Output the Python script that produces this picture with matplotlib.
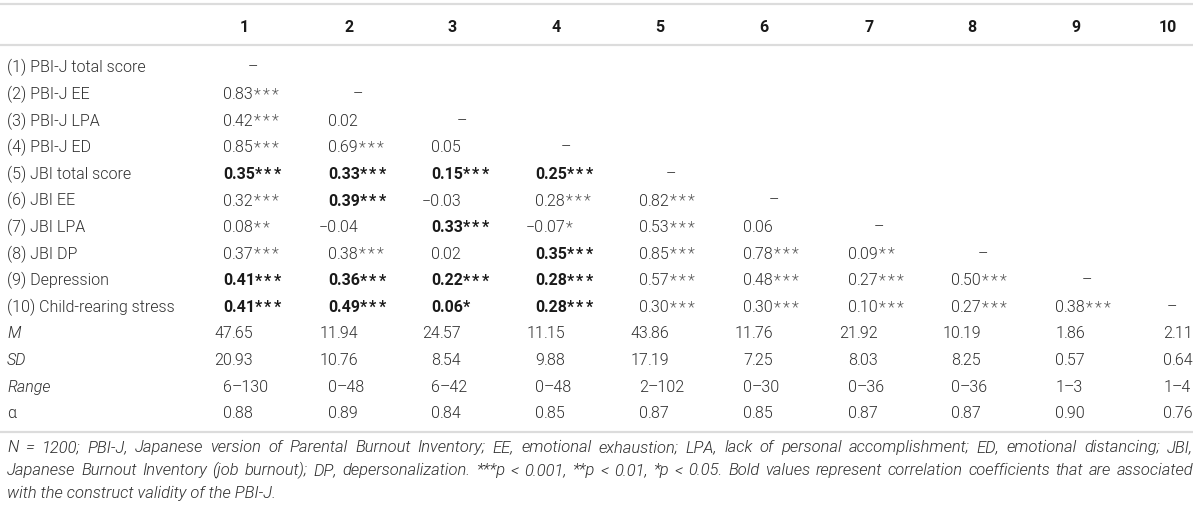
import matplotlib
matplotlib.use("Agg")
import matplotlib.pyplot as plt
from matplotlib import font_manager as fm

# ---------------- data ----------------
col_labels = ["1", "2", "3", "4", "5", "6", "7", "8", "9", "10"]
row_labels = ["(1) PBI-J total score", "(2) PBI-J EE", "(3) PBI-J LPA", "(4) PBI-J ED",
              "(5) JBI total score", "(6) JBI EE", "(7) JBI LPA", "(8) JBI DP",
              "(9) Depression", "(10) Child-rearing stress"]
corr = [
    [],
    [0.83],
    [0.42, 0.02],
    [0.85, 0.69, 0.05],
    [0.35, 0.33, 0.15, 0.25],
    [0.32, 0.39, -0.03, 0.28, 0.82],
    [0.08, -0.04, 0.33, -0.07, 0.53, 0.06],
    [0.37, 0.38, 0.02, 0.35, 0.85, 0.78, 0.09],
    [0.41, 0.36, 0.22, 0.28, 0.57, 0.48, 0.27, 0.50],
    [0.41, 0.49, 0.06, 0.28, 0.30, 0.30, 0.10, 0.27, 0.38],
]
stars = [
    [],
    ["***"],
    ["***", ""],
    ["***", "***", ""],
    ["***", "***", "***", "***"],
    ["***", "***", "", "***", "***"],
    ["**", "", "***", "*", "***", ""],
    ["***", "***", "", "***", "***", "***", "**"],
    ["***", "***", "***", "***", "***", "***", "***", "***"],
    ["***", "***", "*", "***", "***", "***", "***", "***", "***"],
]
bold = [
    [],
    [0],
    [0, 0],
    [0, 0, 0],
    [1, 1, 1, 1],
    [0, 1, 0, 0, 0],
    [0, 0, 1, 0, 0, 0],
    [0, 0, 0, 1, 0, 0, 0],
    [1, 1, 1, 1, 0, 0, 0, 0],
    [1, 1, 1, 1, 0, 0, 0, 0, 0],
]
stat_labels = ["M", "SD", "Range", "α"]
stat_italic = [True, True, True, False]
M_vals = [47.65, 11.94, 24.57, 11.15, 43.86, 11.76, 21.92, 10.19, 1.86, 2.11]
SD_vals = [20.93, 10.76, 8.54, 9.88, 17.19, 7.25, 8.03, 8.25, 0.57, 0.64]
range_vals = ["6–130", "0–48", "6–42", "0–48", "2–102", "0–30", "0–36", "0–36", "1–3", "1–4"]
alpha_vals = [0.88, 0.89, 0.84, 0.85, 0.87, 0.85, 0.87, 0.87, 0.90, 0.76]
footnote_lines = [
    "N = 1200; PBI-J, Japanese version of Parental Burnout Inventory; EE, emotional exhaustion; "
    "LPA, lack of personal accomplishment; ED, emotional distancing; JBI,",
    "Japanese Burnout Inventory (job burnout); DP, depersonalization. ***p < 0.001, **p < 0.01, "
    "*p < 0.05. Bold values represent correlation coefficients that are associated",
    "with the construct validity of the PBI-J.",
]

# ---------------- layout / style ----------------
W, H = 1200, 506
header_x = [244, 349, 452, 556, 660, 764, 869, 972, 1076, 1168]
anchor_x = [232, 337, 440, 544, 648, 752, 857, 960, 1064, 1172]
dash_off = [21, 21, 22, 22, 23, 22, 22, 23, 23, 0]
label_x = 7
header_y = 26
row_y0, row_dy = 67, 26.6
rule_y = [5, 45.7, 432.7]
rule_x1 = 1193
foot_y = [447, 470, 493]
base_shift = 5.5  # center -> baseline

C_TEXT = "#2f2f2f"
C_STAR = "#555555"
C_BOLD = "#1a1a1a"
C_RULE = "#dcdcdc"


def weight_num(w):
    if isinstance(w, (int, float)):
        return int(w)
    return fm.weight_dict.get(w, 400)


def has_font(name, weight, style="normal"):
    for f in fm.fontManager.ttflist:
        if f.name == name and f.style == style and weight_num(f.weight) == weight:
            return True
    return False


FAM, LIGHT = "Liberation Sans", 400
for cand in ["Roboto", "Lato", "Inter", "Open Sans"]:
    if has_font(cand, 300):
        FAM, LIGHT = cand, 300
        break
LIGHT_IT = LIGHT if has_font(FAM, LIGHT, "italic") else 400

fig = plt.figure(figsize=(W / 100, H / 100), dpi=100)
ax = fig.add_axes([0, 0, 1, 1])
ax.set_xlim(0, W)
ax.set_ylim(H, 0)
ax.axis("off")
renderer = fig.canvas.get_renderer()

# fit font sizes to measured widths
probe = ax.text(0, 0, row_labels[0], fontsize=10, family=FAM, weight=LIGHT)
FS = 10 * 138 / probe.get_window_extent(renderer).width
probe.remove()
probe = ax.text(0, 0, footnote_lines[2], fontsize=10, family=FAM, weight=LIGHT_IT, style="italic")
FFS = 10 * 270 / probe.get_window_extent(renderer).width
probe.remove()
FS_PX = FS * 100 / 72
STAR_STEP = 0.58 * FS_PX

# rules
for y in rule_y:
    ax.hlines(y, 0, rule_x1, color=C_RULE, lw=1.6)

# header
for x, lab in zip(header_x, col_labels):
    ax.text(x, header_y + base_shift, lab, ha="center", va="baseline", fontsize=FS,
            family=FAM, weight="bold", color=C_BOLD)


def cell(xa, y, s, is_bold=False, star=""):
    idx = [i for i in (s.find("."), s.find("–")) if i >= 0]
    idx = min(idx) if idx else len(s)
    left, right = s[:idx], s[idx:]
    kw = dict(fontsize=FS, family=FAM, weight="bold" if is_bold else LIGHT,
              color=C_BOLD if is_bold else C_TEXT)
    ax.text(xa, y, left, ha="right", va="baseline", **kw)
    t = ax.text(xa, y, right, ha="left", va="baseline", **kw)
    skw = dict(kw)
    if not is_bold:
        skw["color"] = C_STAR
    for k in range(len(star)):
        ax.annotate("*", xy=(1, 0), xycoords=t, xytext=(k * STAR_STEP, 0),
                    textcoords="offset pixels", ha="left", va="bottom", **skw)


def fmt(v):
    return f"{v:.2f}".replace("-", "−")


# correlation rows
for i, lab in enumerate(row_labels):
    y = row_y0 + i * row_dy + base_shift
    ax.text(label_x, y, lab, ha="left", va="baseline", fontsize=FS, family=FAM,
            weight=LIGHT, color=C_TEXT)
    for j, v in enumerate(corr[i]):
        cell(anchor_x[j], y, fmt(v), bool(bold[i][j]), stars[i][j])
    ax.text(anchor_x[i] + dash_off[i], y, "–", ha="center", va="baseline", fontsize=FS,
            family=FAM, weight=LIGHT, color=C_TEXT)

# descriptive rows
stat_rows = [[f"{v:.2f}" for v in M_vals], [f"{v:.2f}" for v in SD_vals],
             range_vals, [f"{v:.2f}" for v in alpha_vals]]
for k, (lab, it, vals) in enumerate(zip(stat_labels, stat_italic, stat_rows)):
    y = row_y0 + (len(row_labels) + k) * row_dy + base_shift
    ax.text(label_x, y, lab, ha="left", va="baseline", fontsize=FS, family=FAM,
            weight=LIGHT_IT if it else LIGHT, style="italic" if it else "normal", color=C_TEXT)
    for j, s in enumerate(vals):
        cell(anchor_x[j], y, s)

# footnote (justified)
fkw = dict(fontsize=FFS, family=FAM, weight=LIGHT_IT, style="italic", color=C_TEXT,
           va="baseline", ha="left")
for li, line in enumerate(footnote_lines):
    y = foot_y[li] + base_shift
    if li < len(footnote_lines) - 1:
        words = line.split(" ")
        ts = [ax.text(0, y, w, **fkw) for w in words]
        widths = [t.get_window_extent(renderer).width for t in ts]
        gap = (rule_x1 - label_x - sum(widths)) / (len(words) - 1)
        x = label_x
        for t, w in zip(ts, widths):
            t.set_x(x)
            x += w + gap
    else:
        ax.text(label_x, y, line, **fkw)

fig.savefig("out.png", dpi=100)
